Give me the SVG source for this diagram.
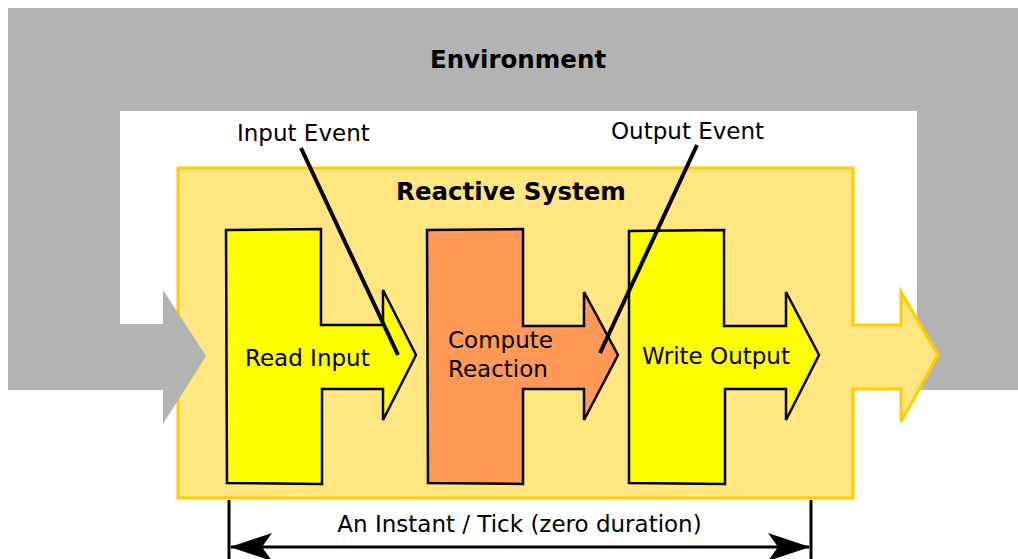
<svg xmlns="http://www.w3.org/2000/svg" width="1018" height="559" viewBox="0 0 1018 559">
<style>
text{font-family:"DejaVu Sans",Verdana,sans-serif;fill:#000}
.b{font-weight:bold;font-size:24.5px}
.n{font-size:23px}
.stage{stroke:#000;stroke-width:2.5;stroke-linejoin:miter}
.ev{stroke:#000;stroke-width:4;fill:none}
.dim{stroke:#000;stroke-width:3;fill:none}
</style>
<defs>
<marker id="ah" viewBox="0 0 44 30" refX="43" refY="15" markerWidth="44" markerHeight="30" markerUnits="userSpaceOnUse" orient="auto-start-reverse">
<path d="M44,15 L2,1 L12,15 L2,29 Z" fill="#000"/>
</marker>
</defs>
<g id="environment">
<rect x="8" y="8" width="1010" height="382" fill="#b3b3b3"/>
<rect x="120" y="111" width="797" height="280" fill="#fff"/>
<rect x="917" y="111" width="101" height="278" fill="#b3b3b3"/>
<text class="b" x="518" y="68" text-anchor="middle">Environment</text>
</g>
<g id="reactive-system">
<rect x="178" y="168" width="675" height="330" fill="#ffe680" stroke="#ffcc00" stroke-width="3"/>
<path d="M853,325 H901 V292 L938,355 L901,422 V389 H853" fill="#ffe680" stroke="#ffcc00" stroke-width="3"/>
<rect x="850" y="326.5" width="6" height="61" fill="#ffe680"/>
<text class="b" x="511" y="200" text-anchor="middle">Reactive System</text>
</g>
<g id="input-arrow">
<path d="M120,324 H163 V290 L206,356 L163,424 V390 H120 Z" fill="#b3b3b3"/>
</g>
<g id="read-input">
<path class="stage" fill="#ffff00" d="M226,230 L321,229 L321,325 L383,325 L383,290 L416,355 L383,420 L383,389 L322,389 L322,484 L227,483 Z"/>
<text class="n" x="245" y="366">Read Input</text>
</g>
<g id="compute-reaction">
<path class="stage" fill="#ff9955" d="M427,230 L523,229 L523,326 L584,326 L584,292 L618,355 L584,420 L584,389 L523,389 L523,484 L428,483 Z"/>
<text class="n" x="448" y="348">Compute</text>
<text class="n" x="448" y="377">Reaction</text>
</g>
<g id="write-output">
<path class="stage" fill="#ffff00" d="M629,231 L724,230 L724,326 L786,326 L786,292 L819,355 L786,420 L786,389 L725,389 L725,484 L629,483 Z"/>
<text class="n" x="642" y="364">Write Output</text>
</g>
<g id="connectors">
<line class="ev" x1="301" y1="148" x2="398" y2="355"/>
<line class="ev" x1="697" y1="145" x2="600" y2="353"/>
<line x1="229" y1="500" x2="229" y2="559" stroke="#000" stroke-width="3"/>
<line x1="811" y1="500" x2="811" y2="559" stroke="#000" stroke-width="3"/>
<line class="dim" x1="231" y1="547" x2="809" y2="547" marker-start="url(#ah)" marker-end="url(#ah)"/>
</g>
<g id="labels">
<text class="n" x="237" y="141">Input Event</text>
<text class="n" x="611" y="139">Output Event</text>
<text class="n" x="519.5" y="532" text-anchor="middle">An Instant / Tick (zero duration)</text>
</g>
</svg>
